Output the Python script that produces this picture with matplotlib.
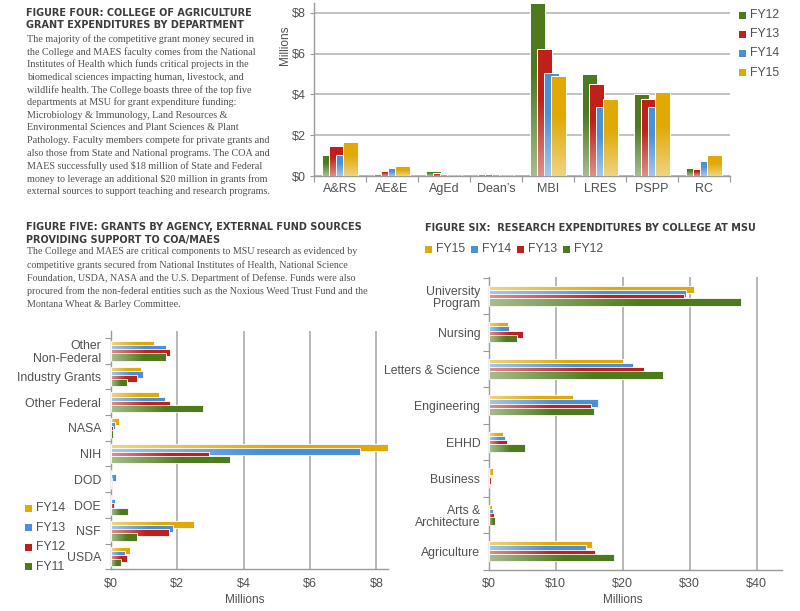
"""
Recreate the COA grant expenditure page: three bar charts with headings.
"""

import numpy as np
import matplotlib
matplotlib.use("Agg")
import matplotlib.pyplot as plt
from matplotlib.patches import Rectangle

W, H = 800, 611

GREEN = "#4e7a1e"
RED = "#bf2019"
BLUE = "#4a90d8"
GOLD = "#e0a905"
GRID = "#b8b8b8"
SPINE = "#9a9a9a"
TXT = "#505050"

COND = dict(family=["Liberation Sans", "DejaVu Sans"])
HEAD = dict(family="DejaVu Sans", fontstretch="condensed", fontweight="bold")
SERIF = ["Liberation Serif", "DejaVu Serif"]

# figure four: department expenditures (millions)
dept_names = ["A&RS", "AE&E", "AgEd", "Dean\u2019s", "MBI", "LRES", "PSPP", "RC"]
dept_fy12 = [1.03, 0.08, 0.25, 0.10, 8.46, 5.00, 4.03, 0.41]
dept_fy13 = [1.48, 0.25, 0.13, 0.10, 6.23, 4.49, 3.79, 0.36]
dept_fy14 = [1.03, 0.38, 0.10, 0.10, 5.05, 3.39, 3.39, 0.75]
dept_fy15 = [1.69, 0.49, 0.10, 0.10, 4.89, 3.77, 4.10, 1.05]
dept_ticks = [0, 2, 4, 6, 8]

# figure five: grants by agency (millions)
agency_names = ["Other\nNon-Federal", "Industry Grants", "Other Federal", "NASA",
                "NIH", "DOD", "DOE", "NSF", "USDA"]
agency_fy14 = [1.29, 0.91, 1.44, 0.24, 8.35, 0.03, 0.03, 2.50, 0.57]
agency_fy13 = [1.67, 0.98, 1.63, 0.12, 7.52, 0.15, 0.12, 1.87, 0.43]
agency_fy12 = [1.79, 0.78, 1.79, 0.06, 2.95, 0.03, 0.11, 1.75, 0.49]
agency_fy11 = [1.67, 0.49, 2.79, 0.06, 3.58, 0.00, 0.51, 0.78, 0.30]
agency_ticks = [0, 2, 4, 6, 8]

# figure six: research expenditures by college (millions)
college_names = ["University\nProgram", "Nursing", "Letters & Science", "Engineering",
                 "EHHD", "Business", "Arts &\nArchitecture", "Agriculture"]
college_fy15 = [30.7, 2.9, 20.0, 12.6, 2.1, 0.7, 0.5, 15.4]
college_fy14 = [29.4, 3.1, 21.6, 16.3, 2.4, 0.0, 0.7, 14.5]
college_fy13 = [29.2, 5.1, 23.2, 15.3, 2.7, 0.4, 0.8, 15.8]
college_fy12 = [37.7, 4.2, 26.0, 15.7, 5.4, 0.0, 1.0, 18.7]
college_ticks = [0, 10, 20, 30, 40]

fig4_head = ["FIGURE FOUR: COLLEGE OF AGRICULTURE", "GRANT EXPENDITURES BY DEPARTMENT"]
fig4_body = [
    "The majority of the competitive grant money secured in",
    "the College and MAES faculty comes from the National",
    "Institutes of Health which funds critical projects in the",
    "biomedical sciences impacting human, livestock, and",
    "wildlife health. The College boasts three of the top five",
    "departments at MSU for grant expenditure funding:",
    "Microbiology & Immunology, Land Resources &",
    "Environmental Sciences and Plant Sciences & Plant",
    "Pathology. Faculty members compete for private grants and",
    "also those from State and National programs. The COA and",
    "MAES successfully used \\$18 million of State and Federal",
    "money to leverage an additional \\$20 million in grants from",
    "external sources to support teaching and research programs.",
]
fig5_head = ["FIGURE FIVE: GRANTS BY AGENCY, EXTERNAL FUND SOURCES",
             "PROVIDING SUPPORT TO COA/MAES"]
fig5_body = [
    "The College and MAES are critical components to MSU research as evidenced by",
    "competitive grants secured from National Institutes of Health, National Science",
    "Foundation, USDA, NASA and the U.S. Department of Defense. Funds were also",
    "procured from the non-federal entities such as the Noxious Weed Trust Fund and the",
    "Montana Wheat & Barley Committee.",
]
fig6_head = "FIGURE SIX:  RESEARCH EXPENDITURES BY COLLEGE AT MSU"


def px(x, y):
    return x / W, 1 - y / H


def add_axes_px(fig, left, top, right, bottom):
    return fig.add_axes([left / W, 1 - bottom / H, (right - left) / W, (bottom - top) / H])


def shade(ax, bars, horizontal, z):
    # white fade towards the base of each bar
    t = np.linspace(0, 1, 64)
    alpha = np.clip(0.5 * (1 - t / 0.6), 0, None)
    for b in bars:
        x, y, w, h = b.get_x(), b.get_y(), b.get_width(), b.get_height()
        if w == 0 or h == 0:
            continue
        if horizontal:
            img = np.ones((1, 64, 4))
            img[0, :, 3] = alpha
        else:
            img = np.ones((64, 1, 4))
            img[:, 0, 3] = alpha
        im = ax.imshow(img, extent=(x, x + w, y, y + h), origin="lower",
                       aspect="auto", interpolation="bilinear", zorder=z + 0.5)
        im.set_clip_path(b)


def legend_item(fig, x, y, color, label):
    fx, fy = px(x, y + 3.5)
    fig.add_artist(Rectangle((fx, fy), 7 / W, 7 / H, transform=fig.transFigure,
                             facecolor=color, edgecolor="none"))
    fig.text(*px(x + 11, y), label, fontsize=8.8, color=TXT, va="center", **COND)


def style_axes(ax):
    for side in ("top", "right"):
        ax.spines[side].set_visible(False)
    for side in ("left", "bottom"):
        ax.spines[side].set_color(SPINE)
        ax.spines[side].set_linewidth(1.0)
    ax.set_axisbelow(True)
    ax.tick_params(which="both", colors=SPINE, labelcolor=TXT)


fig = plt.figure(figsize=(W / 100, H / 100), dpi=100)

# ---- headings and body text
for k, line in enumerate(fig4_head):
    fig.text(*px(26, 13 + k * 12.5), line, fontsize=7.75, color="#3c3c3c",
             va="center", **HEAD)
for k, line in enumerate(fig4_body):
    fig.text(*px(27, 39 + k * 12.7), line, family=SERIF, fontsize=7.3,
             color=TXT, va="center")

for k, line in enumerate(fig5_head):
    fig.text(*px(26, 227 + k * 12.5), line, fontsize=7.75, color="#3c3c3c",
             va="center", **HEAD)
for k, line in enumerate(fig5_body):
    fig.text(*px(27, 252 + k * 13.2), line, family=SERIF, fontsize=7.2,
             color=TXT, va="center")

fig.text(*px(425, 228), fig6_head, fontsize=7.75, color="#3c3c3c", va="center",
         **HEAD)

# ---- figure four: vertical grouped bars
ax4 = add_axes_px(fig, 314, 3, 730, 176)
style_axes(ax4)
x = np.arange(len(dept_names))
series4 = [(dept_fy12, GREEN, "FY12"), (dept_fy13, RED, "FY13"),
           (dept_fy14, BLUE, "FY14"), (dept_fy15, GOLD, "FY15")]
offsets4 = [-0.2, -0.067, 0.067, 0.2]
for i, (vals, color, label) in enumerate(series4):
    z = 3 + i
    bars = ax4.bar(x + offsets4[i], vals, width=0.3, color=color,
                   edgecolor="white", linewidth=0.7, zorder=z)
    shade(ax4, bars, False, z)
ax4.set_xlim(-0.5, len(dept_names) - 0.5)
ax4.set_ylim(0, 8.48)
ax4.set_yticks(dept_ticks)
ax4.set_yticklabels([f"\\${v}" for v in dept_ticks], fontsize=9, **COND)
ax4.yaxis.grid(True, color=GRID, linewidth=1.2)
ax4.set_xticks(np.arange(-0.5, len(dept_names), 1))
ax4.set_xticklabels([])
ax4.set_xticks(x, minor=True)
ax4.set_xticklabels(dept_names, minor=True, fontsize=9, **COND)
ax4.tick_params(axis="x", which="major", length=4, direction="out")
ax4.tick_params(axis="x", which="minor", length=0, pad=5)
ax4.tick_params(axis="y", length=3, pad=3)
fig.text(*px(285, 45), "Millions", fontsize=8.5, color=TXT,
         rotation=90, ha="center", va="center", **COND)
for k, (vals, color, label) in enumerate(series4):
    legend_item(fig, 739, 15.3 + k * 19.1, color, label)

# ---- figure five: horizontal grouped bars
ax5 = add_axes_px(fig, 110.7, 331, 388, 569.3)
style_axes(ax5)
y5 = np.arange(len(agency_names))
series5 = [(agency_fy14, GOLD, "FY14"), (agency_fy13, BLUE, "FY13"),
           (agency_fy12, RED, "FY12"), (agency_fy11, GREEN, "FY11")]
offsets5 = [-0.24, -0.08, 0.08, 0.24]
for i, (vals, color, label) in enumerate(series5):
    z = 3 + i
    bars = ax5.barh(y5 + offsets5[i], vals, height=0.28, color=color,
                    edgecolor="white", linewidth=0.6, zorder=z)
    shade(ax5, bars, True, z)
ax5.set_xlim(0, 8.35)
ax5.set_ylim(len(agency_names) - 0.5, -0.77)
ax5.set_xticks(agency_ticks)
ax5.set_xticklabels([f"\\${v}" for v in agency_ticks], fontsize=9, **COND)
ax5.xaxis.grid(True, color=GRID, linewidth=1.4)
ax5.tick_params(axis="x", length=0, pad=6)
ax5.set_yticks(np.arange(-0.5, len(agency_names), 1))
ax5.set_yticklabels([])
ax5.set_yticks(y5, minor=True)
ax5.set_yticklabels(agency_names, minor=True, fontsize=8.8, linespacing=1.05,
                    **COND)
ax5.tick_params(axis="y", which="major", length=4)
ax5.tick_params(axis="y", which="minor", length=0, pad=7)
fig.text(*px(245, 600), "Millions", fontsize=8.5, color=TXT,
         ha="center", va="center", **COND)
for k, (vals, color, label) in enumerate(series5):
    legend_item(fig, 25, 508 + k * 19.6, color, label)

# ---- figure six: horizontal grouped bars
ax6 = add_axes_px(fig, 488.7, 276.7, 782, 570)
style_axes(ax6)
y6 = np.arange(len(college_names))
series6 = [(college_fy15, GOLD, "FY15"), (college_fy14, BLUE, "FY14"),
           (college_fy13, RED, "FY13"), (college_fy12, GREEN, "FY12")]
offsets6 = [-0.19, -0.075, 0.04, 0.155]
for i, (vals, color, label) in enumerate(series6):
    z = 3 + i
    bars = ax6.barh(y6 + offsets6[i], vals, height=0.2, color=color,
                    edgecolor="white", linewidth=0.6, zorder=z)
    shade(ax6, bars, True, z)
ax6.set_xlim(0, 43.8)
ax6.set_ylim(len(college_names) - 0.5, -0.535)
ax6.set_xticks(college_ticks)
ax6.set_xticklabels([f"\\${v}" for v in college_ticks], fontsize=9, **COND)
ax6.xaxis.grid(True, color=GRID, linewidth=1.4)
ax6.tick_params(axis="x", length=0, pad=6)
ax6.set_yticks(np.arange(-0.5, len(college_names), 1))
ax6.set_yticklabels([])
ax6.set_yticks(y6, minor=True)
ax6.set_yticklabels(college_names, minor=True, fontsize=8.8, linespacing=1.05,
                    **COND)
ax6.tick_params(axis="y", which="major", length=4)
ax6.tick_params(axis="y", which="minor", length=0, pad=6)
fig.text(*px(623, 600), "Millions", fontsize=8.5, color=TXT,
         ha="center", va="center", **COND)
legend_x6 = [425, 471, 517, 563]
for k, (vals, color, label) in enumerate(series6):
    legend_item(fig, legend_x6[k], 249, color, label)

fig.savefig("out.png", dpi=100)
